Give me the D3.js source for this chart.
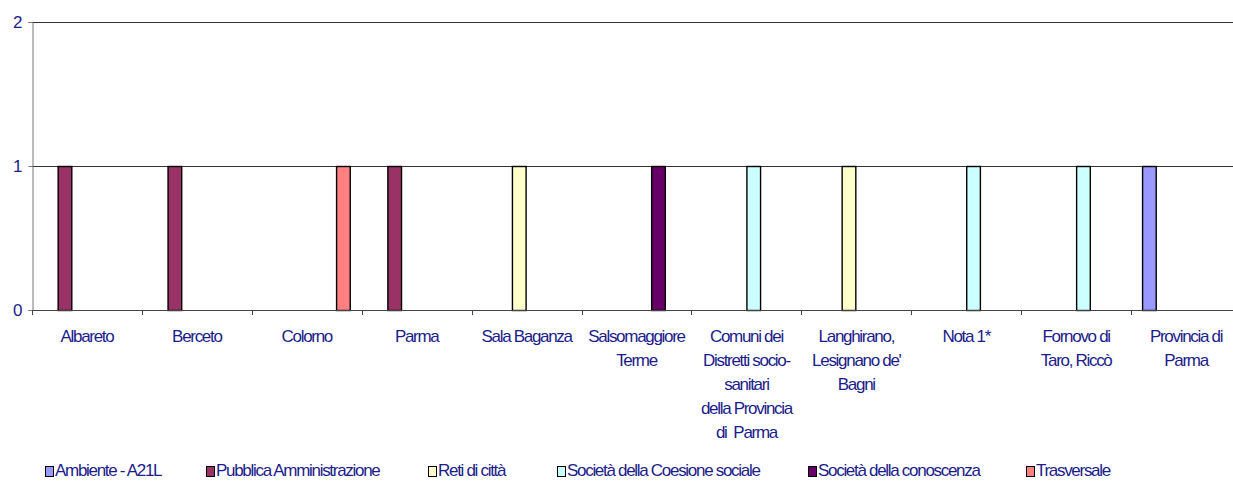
<!DOCTYPE html>
<html>
<head>
<meta charset="utf-8">
<script src="https://cdn.jsdelivr.net/npm/d3@7"></script>
<style>
  html, body { margin: 0; padding: 0; background: #fff; }
  svg { display: block; }
  text { font-family: "Liberation Sans", Arial, sans-serif; fill: #1c1c8a; white-space: pre; }
</style>
</head>
<body>
<svg id="chart" width="1233" height="481"></svg>
<script>
// Project categories (label lines separated by \n)
const categories = [
  "Albareto",
  "Berceto",
  "Colorno",
  "Parma",
  "Sala Baganza",
  "Salsomaggiore\nTerme",
  "Comuni dei\nDistretti socio-\nsanitari\ndella Provincia\ndi  Parma",
  "Langhirano,\nLesignano de'\nBagni",
  "Nota 1*",
  "Fornovo di\nTaro, Riccò",
  "Provincia di\nParma"
];

// Thematic areas (series)
const seriesNames = [
  "Ambiente - A21L",
  "Pubblica Amministrazione",
  "Reti di città",
  "Società della Coesione sociale",
  "Società della conoscenza",
  "Trasversale"
];

const seriesColors = ["#9999ff", "#993366", "#ffffcc", "#ccffff", "#660066", "#ff8080"];

// Number of projects per category, one array per series (0 = no bar)
const ambiente      = [0, 0, 0, 0, 0, 0, 0, 0, 0, 0, 1];
const pubblicaAmm   = [1, 1, 0, 1, 0, 0, 0, 0, 0, 0, 0];
const retiCitta     = [0, 0, 0, 0, 1, 0, 0, 1, 0, 0, 0];
const coesione      = [0, 0, 0, 0, 0, 0, 1, 0, 1, 1, 0];
const conoscenza    = [0, 0, 0, 0, 0, 1, 0, 0, 0, 0, 0];
const trasversale   = [0, 0, 1, 0, 0, 0, 0, 0, 0, 0, 0];

const yTicks = [0, 1, 2];

const seriesValues = [ambiente, pubblicaAmm, retiCitta, coesione, conoscenza, trasversale];

// Layout
const W = 1233, H = 481;
const plot = { left: 32, top: 22, bottom: 310, right: 1241 };
const FONT = "17px";
const SPACING = "-1.3px";
const svg = d3.select("#chart");

const x0 = d3.scaleBand()
  .domain(d3.range(categories.length))
  .range([plot.left, plot.right])
  .paddingInner(0).paddingOuter(0);

const x1 = d3.scaleBand()
  .domain(d3.range(seriesNames.length))
  .range([0, x0.bandwidth()])
  .paddingInner(0).paddingOuter(0.75);

const y = d3.scaleLinear().domain([0, 2]).range([plot.bottom, plot.top]);

// Horizontal gridlines
svg.append("g")
  .selectAll("line")
  .data(yTicks.filter(d => d > 0))
  .join("line")
  .attr("x1", plot.left).attr("x2", W)
  .attr("y1", d => Math.round(y(d)) + 0.5).attr("y2", d => Math.round(y(d)) + 0.5)
  .attr("stroke", "#333").attr("stroke-width", 1);

// Bars
const bars = [];
seriesValues.forEach((vals, s) => {
  vals.forEach((v, c) => { if (v > 0) bars.push({ s, c, v }); });
});

svg.append("g")
  .selectAll("rect")
  .data(bars)
  .join("rect")
  .attr("x", d => x0(d.c) + x1(d.s) + 0.5)
  .attr("y", d => Math.round(y(d.v)) + 0.5)
  .attr("width", x1.bandwidth() - 1)
  .attr("height", d => Math.round(y(0)) - Math.round(y(d.v)))
  .attr("fill", d => seriesColors[d.s])
  .attr("stroke", "#000").attr("stroke-width", 1.4);

// Y axis
const yAxis = svg.append("g")
  .attr("transform", `translate(${plot.left + 0.5},0)`)
  .call(d3.axisLeft(y).tickValues(yTicks).tickFormat(d3.format("d")).tickSize(4).tickPadding(6));
yAxis.select(".domain").attr("stroke", "#777");
yAxis.selectAll(".tick line").attr("stroke", "#777");
yAxis.selectAll(".tick text")
  .style("font-size", FONT)
  .style("font-family", "'Liberation Sans', Arial, sans-serif")
  .attr("fill", "#1c1c8a");

// X axis baseline and category separators
const xg = svg.append("g");
xg.append("line")
  .attr("x1", plot.left).attr("x2", W)
  .attr("y1", plot.bottom + 0.5).attr("y2", plot.bottom + 0.5)
  .attr("stroke", "#444");
xg.selectAll("line.sep")
  .data(d3.range(categories.length + 1))
  .join("line")
  .attr("class", "sep")
  .attr("x1", d => Math.round(plot.left + d * x0.step()) + 0.5)
  .attr("x2", d => Math.round(plot.left + d * x0.step()) + 0.5)
  .attr("y1", plot.bottom).attr("y2", plot.bottom + 5)
  .attr("stroke", "#444");

// Category labels
const lbl = svg.append("g")
  .selectAll("text")
  .data(categories)
  .join("text")
  .attr("text-anchor", "middle")
  .style("font-size", FONT)
  .style("letter-spacing", SPACING)
  .attr("transform", (d, i) => `translate(${x0(i) + x0.bandwidth() / 2},342)`);
lbl.selectAll("tspan")
  .data(d => d.split("\n"))
  .join("tspan")
  .attr("x", 0)
  .attr("y", (d, i) => i * 24)
  .text(d => d);

// Legend
const legendX = [45, 206, 428, 557, 808, 1026];
const legendBaseline = 476;
const leg = svg.append("g")
  .selectAll("g")
  .data(seriesNames)
  .join("g")
  .attr("transform", (d, i) => `translate(${legendX[i]},0)`);
leg.append("rect")
  .attr("x", 0.5).attr("y", legendBaseline - 9.5)
  .attr("width", 8).attr("height", 10)
  .attr("fill", (d, i) => seriesColors[i])
  .attr("stroke", "#000").attr("stroke-width", 1);
leg.append("text")
  .attr("x", 10).attr("y", legendBaseline)
  .style("font-size", FONT)
  .style("letter-spacing", SPACING)
  .text(d => d);
</script>
</body>
</html>
